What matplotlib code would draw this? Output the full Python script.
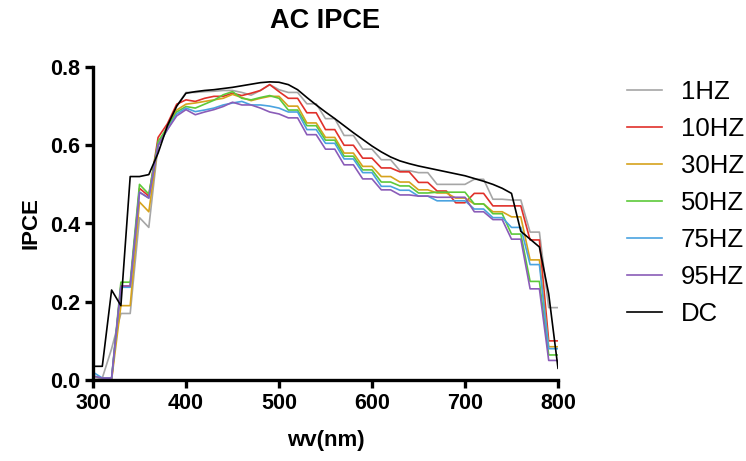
import matplotlib
matplotlib.use("Agg")
import numpy as np
import matplotlib.pyplot as plt

plt.rcParams["font.family"] = ["Liberation Sans", "DejaVu Sans"]

# ==========================================================
# DATA (10 nm steps)
# ==========================================================

wavelength = np.arange(300, 801, 10)

ipce_1hz = [0.0, 0.005, 0.08, 0.17, 0.17, 0.415, 0.39, 0.60, 0.65, 0.70,
            0.735, 0.735, 0.737, 0.738, 0.740, 0.740, 0.735, 0.728, 0.740, 0.755,
            0.742, 0.735, 0.735, 0.706, 0.706, 0.668, 0.668, 0.625, 0.625, 0.590,
            0.590, 0.563, 0.563, 0.535, 0.535, 0.530, 0.530, 0.500, 0.500, 0.500,
            0.500, 0.513, 0.513, 0.462, 0.462, 0.460, 0.460, 0.378, 0.378, 0.185,
            0.185]

ipce_10hz = [0.0, 0.0, 0.0, 0.24, 0.24, 0.49, 0.47, 0.62, 0.655, 0.705,
             0.716, 0.712, 0.720, 0.725, 0.725, 0.733, 0.727, 0.733, 0.740, 0.755,
             0.737, 0.720, 0.720, 0.683, 0.683, 0.640, 0.640, 0.600, 0.600, 0.567,
             0.567, 0.542, 0.542, 0.532, 0.532, 0.505, 0.505, 0.483, 0.483, 0.453,
             0.453, 0.477, 0.477, 0.445, 0.445, 0.445, 0.445, 0.358, 0.358, 0.100,
             0.100]

ipce_30hz = [0.0, 0.0, 0.0, 0.19, 0.19, 0.455, 0.43, 0.60, 0.645, 0.69,
             0.705, 0.708, 0.712, 0.716, 0.720, 0.730, 0.722, 0.714, 0.720, 0.725,
             0.725, 0.700, 0.700, 0.657, 0.657, 0.620, 0.620, 0.580, 0.580, 0.546,
             0.546, 0.520, 0.520, 0.506, 0.506, 0.486, 0.486, 0.478, 0.478, 0.465,
             0.465, 0.450, 0.450, 0.430, 0.430, 0.417, 0.417, 0.307, 0.307, 0.085,
             0.085]

ipce_50hz = [0.01, 0.005, 0.005, 0.25, 0.25, 0.50, 0.475, 0.61, 0.645, 0.685,
             0.699, 0.695, 0.705, 0.715, 0.729, 0.737, 0.720, 0.716, 0.722, 0.727,
             0.720, 0.690, 0.690, 0.650, 0.650, 0.613, 0.613, 0.572, 0.572, 0.537,
             0.537, 0.506, 0.506, 0.496, 0.496, 0.478, 0.478, 0.480, 0.480, 0.480,
             0.480, 0.450, 0.450, 0.425, 0.425, 0.373, 0.373, 0.252, 0.252, 0.064,
             0.064]

ipce_75hz = [0.02, 0.005, 0.005, 0.237, 0.237, 0.48, 0.465, 0.60, 0.64, 0.68,
             0.695, 0.686, 0.690, 0.695, 0.703, 0.708, 0.712, 0.703, 0.703, 0.700,
             0.695, 0.685, 0.685, 0.640, 0.640, 0.605, 0.605, 0.565, 0.565, 0.530,
             0.530, 0.495, 0.495, 0.485, 0.485, 0.470, 0.470, 0.458, 0.458, 0.458,
             0.458, 0.437, 0.437, 0.415, 0.415, 0.390, 0.390, 0.295, 0.295, 0.080,
             0.080]

ipce_95hz = [0.01, 0.005, 0.005, 0.24, 0.24, 0.48, 0.465, 0.60, 0.64, 0.675,
             0.691, 0.678, 0.685, 0.691, 0.699, 0.710, 0.703, 0.703, 0.695, 0.685,
             0.680, 0.670, 0.670, 0.627, 0.627, 0.590, 0.590, 0.550, 0.550, 0.514,
             0.514, 0.486, 0.486, 0.473, 0.473, 0.470, 0.470, 0.467, 0.467, 0.467,
             0.467, 0.430, 0.430, 0.410, 0.410, 0.360, 0.360, 0.233, 0.233, 0.050,
             0.050]

ipce_dc = [0.035, 0.035, 0.23, 0.19, 0.52, 0.52, 0.525, 0.58, 0.65, 0.70,
           0.733, 0.737, 0.740, 0.742, 0.745, 0.748, 0.752, 0.756, 0.760, 0.762,
           0.761, 0.755, 0.742, 0.722, 0.703, 0.685, 0.668, 0.650, 0.632, 0.615,
           0.598, 0.583, 0.570, 0.560, 0.553, 0.547, 0.542, 0.537, 0.532, 0.527,
           0.522, 0.515, 0.508, 0.500, 0.490, 0.477, 0.380, 0.360, 0.340, 0.220,
           0.030]

labels = ["1HZ", "10HZ", "30HZ", "50HZ", "75HZ", "95HZ", "DC"]
series = [ipce_1hz, ipce_10hz, ipce_30hz, ipce_50hz, ipce_75hz, ipce_95hz, ipce_dc]
colors = ["#a6a6a6", "#e0302a", "#d6a21c", "#5cc93a", "#4aa3e0", "#8a5cb8", "#000000"]

# ==========================================================
# PLOT
# ==========================================================

fig = plt.figure(figsize=(7.46, 4.61), dpi=100)
ax = fig.add_axes([93 / 746, 1 - 380 / 461, 465 / 746, 313 / 461])

for vals, lab, col in zip(series, labels, colors):
    ax.plot(wavelength, vals, color=col, lw=1.2, label=lab)

ax.set_xlim(300, 800)
ax.set_ylim(0, 0.8)
ax.set_xticks([300, 400, 500, 600, 700, 800])
ax.set_yticks([0.0, 0.2, 0.4, 0.6, 0.8])
ax.set_yticklabels(["0.0", "0.2", "0.4", "0.6", "0.8"])

for side in ["top", "right"]:
    ax.spines[side].set_visible(False)
for side in ["left", "bottom"]:
    ax.spines[side].set_linewidth(2.4)
    ax.spines[side].set_zorder(5)

ax.tick_params(axis="both", length=6, width=2.4, pad=3, labelsize=15.5)
for t in ax.get_xticklabels() + ax.get_yticklabels():
    t.set_fontweight("bold")

ax.set_title("AC IPCE", fontsize=19.5, fontweight="bold", pad=28)
ax.set_xlabel("wv(nm)", fontsize=16, fontweight="bold", labelpad=12)
ax.set_ylabel("IPCE", fontsize=16, fontweight="bold", labelpad=6.5)

ax.legend(loc="upper left", bbox_to_anchor=(627 / 746, 1 - 80 / 461),
          bbox_transform=fig.transFigure, frameon=False, fontsize=18.5,
          handlelength=1.36, handletextpad=0.74, labelspacing=0.505,
          borderaxespad=0, borderpad=0)

fig.savefig("out.png", dpi=100)
